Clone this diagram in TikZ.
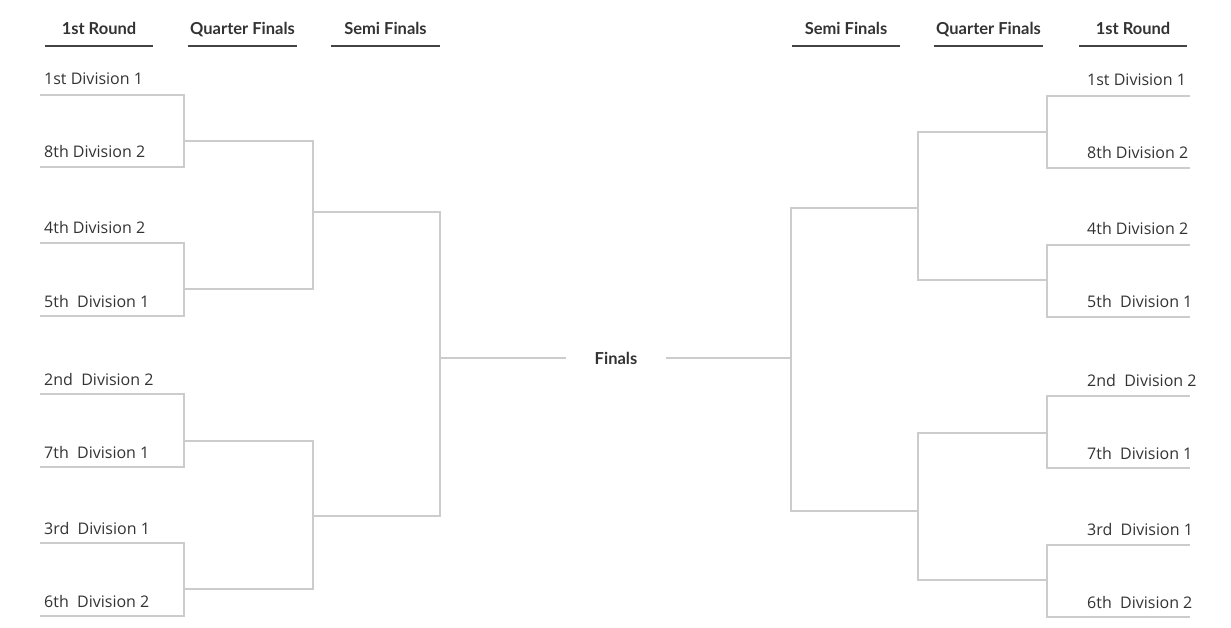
\documentclass[tikz,border=0pt]{standalone}
\usepackage{fontspec}
\setmainfont{Open Sans}
\newfontfamily\headfont{Lato}

\definecolor{bracketgray}{HTML}{CCCCCC}
\definecolor{textgray}{HTML}{333333}
\definecolor{rulegray}{HTML}{444444}

\tikzset{
  team/.style={inner sep=0pt, anchor=west, text=textgray, font=\fontsize{16}{16}\selectfont},
  roundhead/.style={inner sep=0pt, minimum height=34pt, text height=12pt, text depth=0pt, text=textgray, font=\headfont\bfseries\fontsize{16.5}{16.5}\selectfont},
  headrule/.style={draw=rulegray, line width=2pt},
  bracket/.style={draw=bracketgray, line width=2pt},
}

\begin{document}
\begin{tikzpicture}[x=1pt,y=-1pt]
    \useasboundingbox (0,0) rectangle (1231,628);

    \node[roundhead, minimum width=108pt] (hl1) at (99,29) {1st Round};
    \node[roundhead, minimum width=109pt] (hl2) at (242.5,29) {Quarter Finals};
    \node[roundhead, minimum width=109pt] (hl3) at (385.5,29) {Semi Finals};
    \node[roundhead, minimum width=108pt] (hr3) at (846,29) {Semi Finals};
    \node[roundhead, minimum width=109pt] (hr2) at (988.5,29) {Quarter Finals};
    \node[roundhead, minimum width=108pt] (hr1) at (1133,29) {1st Round};
    \foreach \h in {hl1,hl2,hl3,hr3,hr2,hr1}
      \draw[headrule] (\h.south west) -- (\h.south east);

    \foreach \y/\t [count=\i] in {79/1st Division 1,152/8th Division 2,228/4th Division 2,301/5th\ \ Division 1,
        379/2nd\ \ Division 2,452/7th\ \ Division 1,528/3rd\ \ Division 1,601/6th\ \ Division 2} {
      \node[team] (lt\i) at (44,\y) {\t};
      \node[team] (rt\i) at (1087,\y+1) {\t};
    }

    \foreach \y [count=\i] in {95,167,243,316,394,467,543,616}
      \coordinate (la\i) at (40,\y);
    \foreach \y [count=\i] in {96,168,245,317,396,468,545,617}
      \coordinate (ra\i) at (1190,\y);

    \coordinate (lq1) at (184,141);
    \coordinate (lq2) at (184,289);
    \coordinate (lq3) at (184,441);
    \coordinate (lq4) at (184,589);
    \coordinate (ls1) at (313,212);
    \coordinate (ls2) at (313,516);
    \coordinate (lf) at (440,358);

    \coordinate (rq1) at (1047,132);
    \coordinate (rq2) at (1047,280);
    \coordinate (rq3) at (1047,433);
    \coordinate (rq4) at (1047,580);
    \coordinate (rs1) at (918,208);
    \coordinate (rs2) at (918,511);
    \coordinate (rf) at (791,358);

    \node[text=textgray, inner sep=0pt, minimum width=100pt, font=\headfont\bfseries\fontsize{16.5}{16.5}\selectfont] (final) at (616,358) {Finals};

    \draw[bracket] (la1) -| (lq1) |- (la2);
    \draw[bracket] (la3) -| (lq2) |- (la4);
    \draw[bracket] (la5) -| (lq3) |- (la6);
    \draw[bracket] (la7) -| (lq4) |- (la8);
    \draw[bracket] (lq1) -| (ls1) |- (lq2);
    \draw[bracket] (lq3) -| (ls2) |- (lq4);
    \draw[bracket] (ls1) -| (lf) |- (ls2);
    \draw[bracket] (lf) -- (final.west);

    \draw[bracket] (ra1) -| (rq1) |- (ra2);
    \draw[bracket] (ra3) -| (rq2) |- (ra4);
    \draw[bracket] (ra5) -| (rq3) |- (ra6);
    \draw[bracket] (ra7) -| (rq4) |- (ra8);
    \draw[bracket] (rq1) -| (rs1) |- (rq2);
    \draw[bracket] (rq3) -| (rs2) |- (rq4);
    \draw[bracket] (rs1) -| (rf) |- (rs2);
    \draw[bracket] (rf) -- (final.east);
\end{tikzpicture}
\end{document}
